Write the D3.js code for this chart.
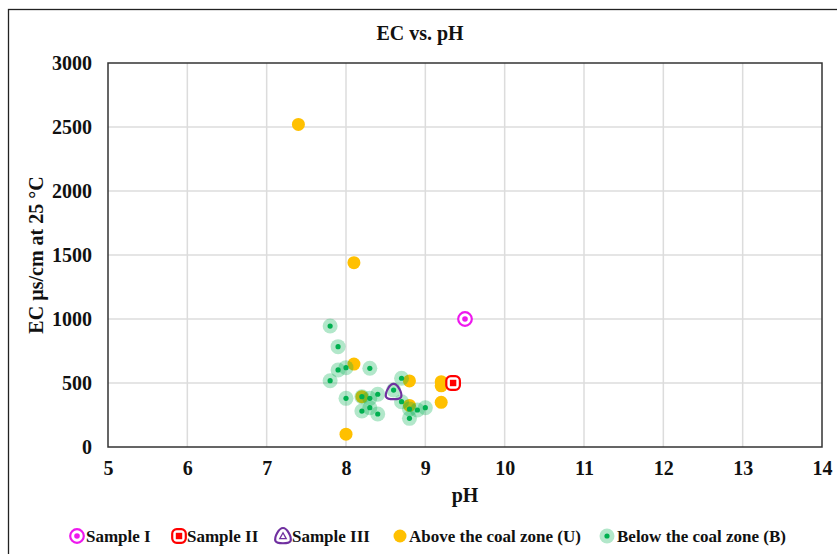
<!DOCTYPE html>
<html>
<head>
<meta charset="utf-8">
<script src="https://cdn.jsdelivr.net/npm/d3@7"></script>
<style>
  html, body { margin: 0; padding: 0; background: #fff; }
  svg { display: block; font-family: "Liberation Serif", "Times New Roman", serif; font-weight: bold; }
</style>
</head>
<body>
<svg id="chart" width="837" height="554"></svg>
<script>
// Axis ticks
const xTicks = [5, 6, 7, 8, 9, 10, 11, 12, 13, 14];
const yTicks = [0, 500, 1000, 1500, 2000, 2500, 3000];

// Groundwater samples: pH and EC (µs/cm at 25 °C)
const aboveCoal = [
  [7.4, 2520], [8.1, 1440], [8.1, 648], [8.0, 100], [8.2, 393],
  [8.8, 516], [8.8, 325], [9.2, 510], [9.2, 478], [9.2, 349]
];
const belowCoal = [
  [7.8, 945], [7.9, 784], [7.9, 602], [8.0, 620], [7.8, 518],
  [8.3, 615], [8.0, 380], [8.2, 393], [8.3, 380], [8.4, 412],
  [8.2, 281], [8.3, 307], [8.4, 258], [8.7, 537], [8.7, 354],
  [8.8, 297], [8.9, 289], [9.0, 307], [8.8, 224], [8.6, 445]
];
const sampleI = [[9.5, 1000]];
const sampleII = [[9.35, 500]];
const sampleIII = [[8.6, 430]];

const legendLabels = ["Sample I", "Sample II", "Sample III", "Above the coal zone (U)", "Below the coal zone (B)"];

const svg = d3.select("#chart");
const m = { left: 108, right: 822, top: 63, bottom: 447 };

const x = d3.scaleLinear().domain([5, 14]).range([m.left, m.right]);
const y = d3.scaleLinear().domain([0, 3000]).range([m.bottom, m.top]);

// Outer chart frame
svg.append("rect").attr("x", 8.5).attr("y", 9.5).attr("width", 840).attr("height", 560)
  .attr("fill", "none").attr("stroke", "#222").attr("stroke-width", 1.3);

// Gridlines
svg.append("g").selectAll("line").data(xTicks.slice(1, -1)).join("line")
  .attr("x1", d => x(d)).attr("x2", d => x(d)).attr("y1", m.top).attr("y2", m.bottom)
  .attr("stroke", "#dcdcdc").attr("stroke-width", 1.5);
svg.append("g").selectAll("line").data(yTicks.slice(1, -1)).join("line")
  .attr("x1", m.left).attr("x2", m.right).attr("y1", d => y(d)).attr("y2", d => y(d))
  .attr("stroke", "#dcdcdc").attr("stroke-width", 1.5);

// Plot frame
svg.append("rect").attr("x", m.left).attr("y", m.top)
  .attr("width", m.right - m.left).attr("height", m.bottom - m.top)
  .attr("fill", "none").attr("stroke", "#333").attr("stroke-width", 1.5);

// Axes
const xAxis = svg.append("g").attr("transform", `translate(0,${m.bottom})`)
  .call(d3.axisBottom(x).tickValues(xTicks).tickSize(0).tickPadding(14).tickFormat(d3.format("d")));
const yAxis = svg.append("g").attr("transform", `translate(${m.left},0)`)
  .call(d3.axisLeft(y).tickValues(yTicks).tickSize(0).tickPadding(16).tickFormat(d3.format("d")));
[xAxis, yAxis].forEach(a => {
  a.select(".domain").remove();
  a.selectAll("text").attr("font-family", "Liberation Serif, serif").attr("font-weight", "bold")
    .attr("font-size", 20).attr("fill", "#111");
});

// Titles
svg.append("text").attr("x", 420).attr("y", 40).attr("text-anchor", "middle")
  .attr("font-size", 20).attr("fill", "#111").text("EC vs. pH");
svg.append("text").attr("x", 465).attr("y", 502).attr("text-anchor", "middle")
  .attr("font-size", 20).attr("fill", "#111").text("pH");
svg.append("text").attr("transform", "translate(43,255) rotate(-90)").attr("text-anchor", "middle")
  .attr("font-size", 20).attr("fill", "#111").text("EC µs/cm at 25 °C");

// Marker drawers
const green = "#00b050", greenHalo = "rgba(0,176,80,0.3)";
const orange = "#ffc000", magenta = "#ee18ee", red = "#ff0000", purple = "#7030a0";

function drawBelow(g) {
  g.append("circle").attr("r", 7.5).attr("fill", greenHalo);
  g.append("circle").attr("r", 2.6).attr("fill", green);
}
function drawAbove(g) {
  g.append("circle").attr("r", 6.5).attr("fill", orange);
}
function drawI(g) {
  g.append("circle").attr("r", 6.8).attr("fill", "#fff").attr("stroke", magenta).attr("stroke-width", 2.2);
  g.append("circle").attr("r", 2.8).attr("fill", magenta);
}
function drawII(g) {
  g.append("rect").attr("x", -6.8).attr("y", -6.8).attr("width", 13.6).attr("height", 13.6).attr("rx", 4.5)
    .attr("fill", "#fff").attr("stroke", red).attr("stroke-width", 2.2);
  g.append("rect").attr("x", -3.2).attr("y", -3.2).attr("width", 6.4).attr("height", 6.4).attr("fill", red);
}
const roundTri = "M0,-8 C4,-8 9,1 7.5,5 C6,8 -6,8 -7.5,5 C-9,1 -4,-8 0,-8 Z";
function drawIII(g, withCore) {
  g.append("path").attr("d", roundTri).attr("fill", "none").attr("stroke", purple).attr("stroke-width", 2.2);
  if (withCore) {
    g.append("path").attr("d", "M0,-3.2 L3.2,2.6 L-3.2,2.6 Z").attr("fill", "none")
      .attr("stroke", purple).attr("stroke-width", 1.3);
  }
}

function plot(data, drawer, arg) {
  data.forEach(d => {
    const g = svg.append("g").attr("transform", `translate(${x(d[0])},${y(d[1])})`);
    drawer(g, arg);
  });
}

plot(aboveCoal, drawAbove);
plot(belowCoal, drawBelow);
plot(sampleIII, drawIII, false);
plot(sampleII, drawII);
plot(sampleI, drawI);

// Legend
const legendPos = [[77, 86], [179, 187], [283, 292], [400, 409], [607, 617]];
const legendDrawers = [drawI, drawII, g => drawIII(g, true), drawAbove, drawBelow];
const ly = 536;
legendLabels.forEach((lab, i) => {
  const g = svg.append("g").attr("transform", `translate(${legendPos[i][0]},${ly})`);
  legendDrawers[i](g);
  svg.append("text").attr("x", legendPos[i][1]).attr("y", ly + 6).attr("font-size", 17)
    .attr("fill", "#111").text(lab);
});
</script>
</body>
</html>
